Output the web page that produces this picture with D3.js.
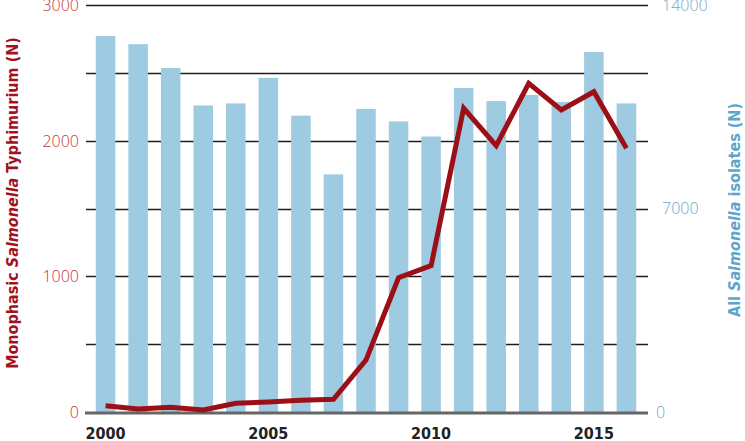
<!DOCTYPE html>
<html>
<head>
<meta charset="utf-8">
<script src="https://cdn.jsdelivr.net/npm/d3@7"></script>
<style>
  body { margin: 0; background: #fff; }
  svg { display: block; }
</style>
</head>
<body>
<svg id="chart" width="745" height="441"></svg>
<script>
// years on the x axis
const years = [2000, 2001, 2002, 2003, 2004, 2005, 2006, 2007, 2008,
               2009, 2010, 2011, 2012, 2013, 2014, 2015, 2016];
// all Salmonella isolates (bars, right axis)
const allIsolates = [12940, 12660, 11840, 10550, 10620, 11500, 10200, 8180, 10430,
                     10000, 9480, 11150, 10700, 10910, 10670, 12390, 10620];
// monophasic S. Typhimurium (line, left axis)
const monophasic = [46, 22, 35, 15, 64, 74, 86, 94, 383,
                    990, 1079, 2240, 1964, 2424, 2227, 2362, 1945];
const leftTicks = [0, 1000, 2000, 3000];
const rightTicks = [0, 7000, 14000];
const gridTicks = [0, 500, 1000, 1500, 2000, 2500, 3000];
const xLabels = [2000, 2005, 2010, 2015];

const svg = d3.select("#chart");
const plotL = 86, plotR = 648, plotT = 5.2, plotB = 412;

const x = d3.scaleBand()
    .domain(years)
    .range([89.3, 642.7])
    .paddingInner(0.4)
    .paddingOuter(0.2);

const yL = d3.scaleLinear().domain([0, 3000]).range([plotB, plotT]);
const yR = d3.scaleLinear().domain([0, 14000]).range([plotB, plotT]);

//gridlines first, bars cover them
svg.append("g")
    .selectAll("line")
    .data(gridTicks.filter(d => d > 0))
    .enter()
    .append("line")
    .attr("x1", plotL)
    .attr("x2", plotR)
    .attr("y1", d => Math.round(yL(d)) + 0.5)
    .attr("y2", d => Math.round(yL(d)) + 0.5)
    .attr("stroke", "#1e1e1e")
    .attr("stroke-width", 1.3);

svg.append("g")
    .selectAll("rect")
    .data(years)
    .enter()
    .append("rect")
    .attr("x", d => x(d))
    .attr("width", x.bandwidth())
    .attr("y", (d, i) => yR(allIsolates[i]))
    .attr("height", (d, i) => yR(0) - yR(allIsolates[i]))
    .attr("fill", "#9ecbe2");

// baseline
svg.append("line")
    .attr("x1", plotL - 1)
    .attr("x2", plotR)
    .attr("y1", yL(0) + 1)
    .attr("y2", yL(0) + 1)
    .attr("stroke", "#666")
    .attr("stroke-width", 3);

const line = d3.line()
    .x((d, i) => x(years[i]) + x.bandwidth() / 2)
    .y(d => yL(d));

svg.append("path")
    .datum(monophasic)
    .attr("d", line)
    .attr("fill", "none")
    .attr("stroke", "#9c0f16")
    .attr("stroke-width", 5)
    .attr("stroke-linejoin", "miter")
    .attr("stroke-linecap", "butt");

// left axis labels
svg.append("g")
    .selectAll("text")
    .data(leftTicks)
    .enter()
    .append("text")
    .attr("x", 79)
    .attr("y", d => yL(d))
    .attr("dy", "0.36em")
    .attr("text-anchor", "end")
    .attr("fill", "#c4323a")
    .style("font", "300 16px 'Open Sans', sans-serif")
    .text(d => d);

// right axis labels
svg.append("g")
    .selectAll("text")
    .data(rightTicks)
    .enter()
    .append("text")
    .attr("x", d => d == 0 ? 656 : 662)
    .attr("y", d => yR(d))
    .attr("dy", "0.36em")
    .attr("fill", "#6fa7c4")
    .style("font", "300 16px 'Open Sans', sans-serif")
    .text(d => d);

// x labels
svg.append("g")
    .selectAll("text")
    .data(xLabels)
    .enter()
    .append("text")
    .attr("x", d => x(d) + x.bandwidth() / 2)
    .attr("y", 439)
    .attr("text-anchor", "middle")
    .attr("fill", "#222")
    .style("font", "bold 16px 'DejaVu Sans', sans-serif")
    .style("font-stretch", "condensed")
    .text(d => d);

// axis titles
const leftTitle = svg.append("text")
    .attr("transform", "translate(18,203) rotate(-90)")
    .attr("text-anchor", "middle")
    .attr("fill", "#a3121c")
    .style("font", "bold 16px 'DejaVu Sans', sans-serif")
    .style("font-stretch", "condensed");
leftTitle.append("tspan").text("Monophasic ");
leftTitle.append("tspan").style("font-style", "italic").text("Salmonella");
leftTitle.append("tspan").text(" Typhimurium (N)");

const rightTitle = svg.append("text")
    .attr("transform", "translate(740,210) rotate(-90)")
    .attr("text-anchor", "middle")
    .attr("fill", "#5da6ca")
    .style("font", "bold 16px 'DejaVu Sans', sans-serif")
    .style("font-stretch", "condensed");
rightTitle.append("tspan").text("All ");
rightTitle.append("tspan").style("font-style", "italic").text("Salmonella");
rightTitle.append("tspan").text(" isolates (N)");
</script>
</body>
</html>
